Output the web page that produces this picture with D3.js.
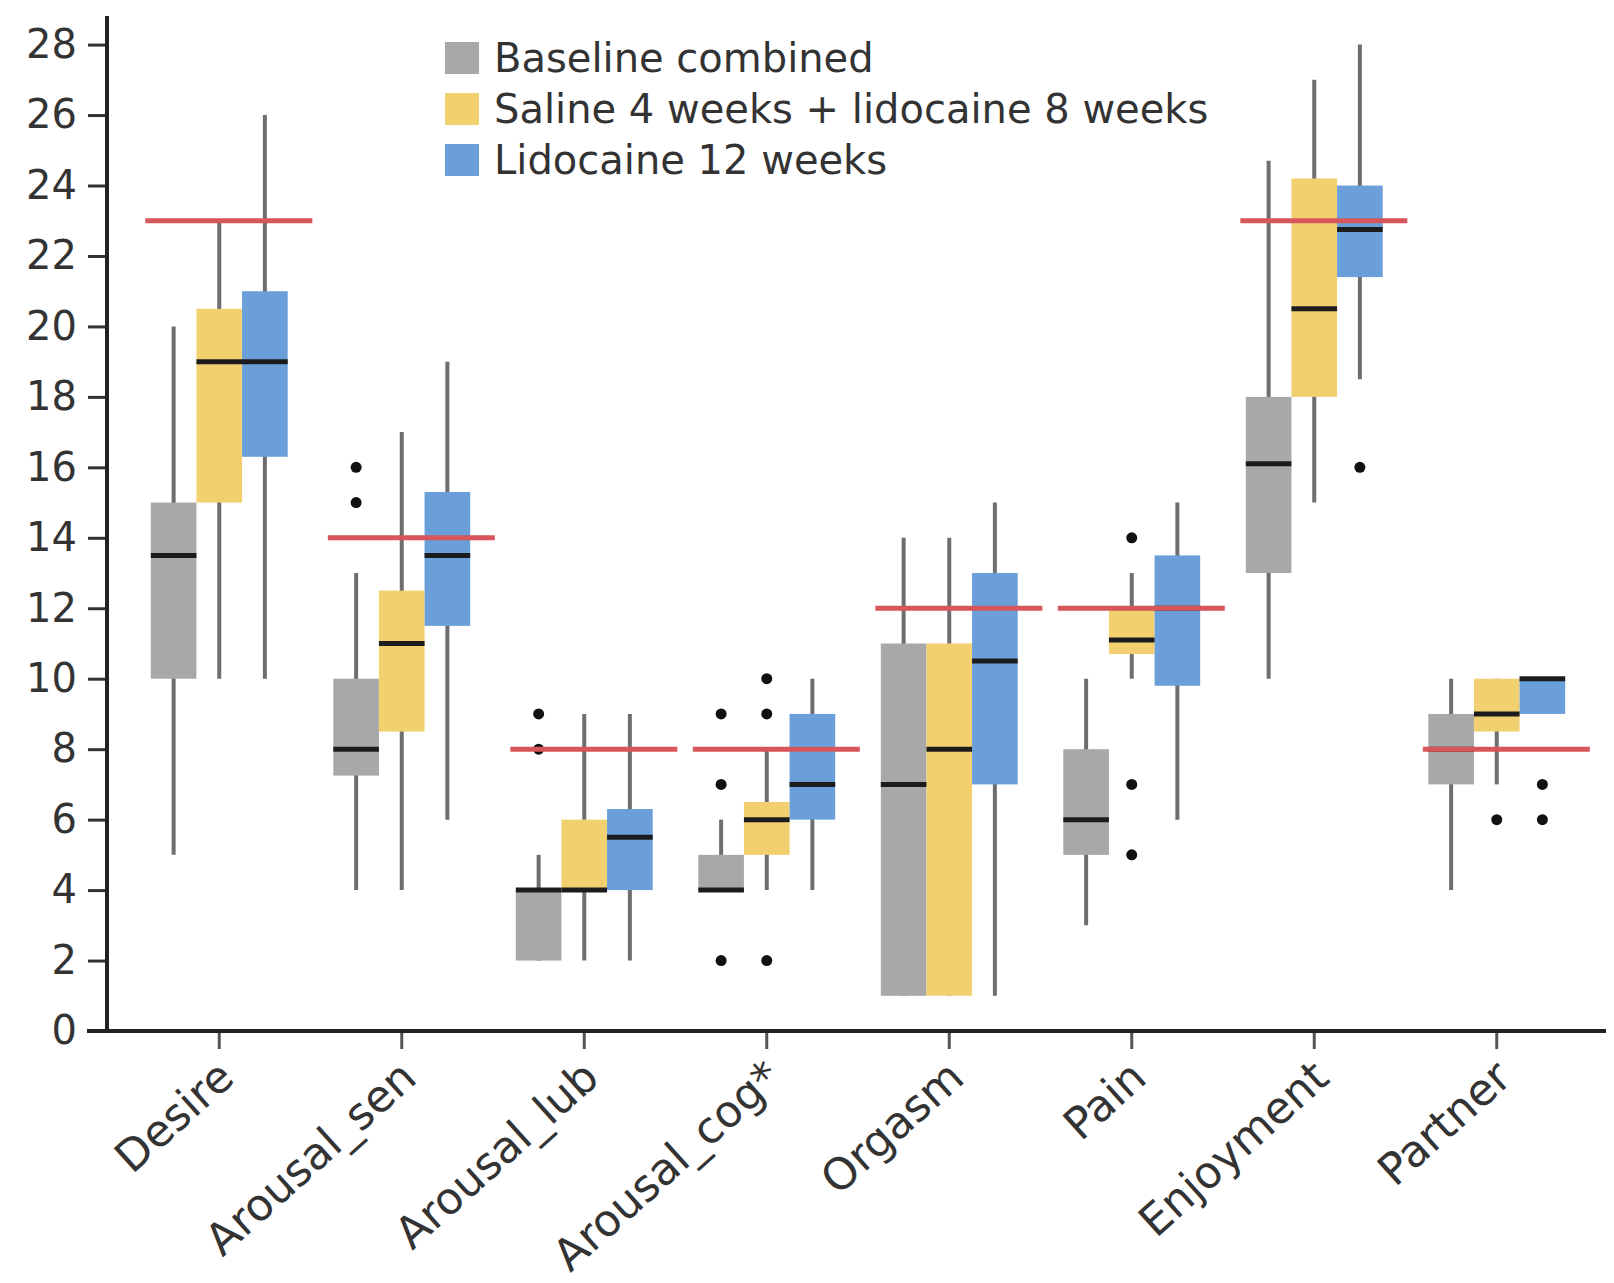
<!DOCTYPE html>
<html><head><meta charset="utf-8">
<script src="https://cdn.jsdelivr.net/npm/d3@7"></script>
<style>
html,body{margin:0;padding:0;background:#fff;}
svg{display:block;}
text{font-family:"DejaVu Sans",sans-serif;fill:#333;}
</style></head>
<body>
<svg id="chart" width="1614" height="1283"></svg>
<script>
const categories = ["Desire","Arousal_sen","Arousal_lub","Arousal_cog*","Orgasm","Pain","Enjoyment","Partner"];
const seriesNames = ["Baseline combined","Saline 4 weeks + lidocaine 8 weeks","Lidocaine 12 weeks"];
const yTicks = [0,2,4,6,8,10,12,14,16,18,20,22,24,26,28];
const referenceValues = [23,14,8,8,12,12,23,8];

// Baseline combined
const baseLow    = [5,4,2,4,1,3,10,4];
const baseQ1     = [10,7.25,2,4,1,5,13,7];
const baseMedian = [13.5,8,4,4,7,6,16.1,8];
const baseQ3     = [15,10,4,5,11,8,18,9];
const baseHigh   = [20,13,5,6,14,10,24.7,10];
const baseOut    = [[],[15,16],[8,9],[2,7,9],[],[],[],[]];

// Saline 4 weeks + lidocaine 8 weeks
const salLow    = [10,4,2,4,1,10,15,7];
const salQ1     = [15,8.5,4,5,1,10.7,18,8.5];
const salMedian = [19,11,4,6,8,11.1,20.5,9];
const salQ3     = [20.5,12.5,6,6.5,11,12,24.2,10];
const salHigh   = [23,17,9,8,14,13,27,10];
const salOut    = [[],[],[],[2,9,10],[],[5,7,14],[],[6]];

// Lidocaine 12 weeks
const lidLow    = [10,6,2,4,1,6,18.5,9];
const lidQ1     = [16.3,11.5,4,6,7,9.8,21.4,9];
const lidMedian = [19,13.5,5.5,7,10.5,12,22.75,10];
const lidQ3     = [21,15.3,6.3,9,13,13.5,24,10];
const lidHigh   = [26,19,9,10,15,15,28,10];
const lidOut    = [[],[],[],[],[],[],[16],[6,7]];

const colors = ["#a8a8aa","#f2cf6f","#6a9fda"];

const series = [
  {low:baseLow,q1:baseQ1,med:baseMedian,q3:baseQ3,high:baseHigh,out:baseOut},
  {low:salLow,q1:salQ1,med:salMedian,q3:salQ3,high:salHigh,out:salOut},
  {low:lidLow,q1:lidQ1,med:lidMedian,q3:lidQ3,high:lidHigh,out:lidOut}
];

const svg = d3.select("#chart");
const axisX0 = 107, axisBottom = 1031, axisTop = 16;
const y = d3.scaleLinear().domain([0,28]).range([1031, 44.6]);
const x = d3.scaleBand().domain(categories).range([128, 1588]).padding(0);
const sub = d3.scaleBand().domain([0,1,2]).range([-x.step()*0.375, x.step()*0.375]).padding(0);
const bw = sub.bandwidth();

// boxes
categories.forEach((c,i)=>{
  const g = svg.append("g").attr("transform",`translate(${x(c)+x.bandwidth()/2},0)`);
  series.forEach((s,k)=>{
    const cx = sub(k)+bw/2;
    g.append("line").attr("x1",cx).attr("x2",cx)
      .attr("y1",y(s.low[i])).attr("y2",y(s.high[i]))
      .attr("stroke","#6e6e70").attr("stroke-width",4);
  });
  series.forEach((s,k)=>{
    const x0 = sub(k);
    g.append("rect").attr("x",x0).attr("width",bw)
      .attr("y",y(s.q3[i])).attr("height",Math.max(0,y(s.q1[i])-y(s.q3[i])))
      .attr("fill",colors[k]);
  });
  series.forEach((s,k)=>{
    const x0 = sub(k);
    g.append("line").attr("x1",x0).attr("x2",x0+bw)
      .attr("y1",y(s.med[i])).attr("y2",y(s.med[i]))
      .attr("stroke","#1c1c1c").attr("stroke-width",5);
  });
  series.forEach((s,k)=>{
    const cx = sub(k)+bw/2;
    s.out[i].forEach(v=>{
      g.append("circle").attr("cx",cx).attr("cy",y(v)).attr("r",5.5).attr("fill","#111");
    });
  });
  g.append("line")
    .attr("x1",-x.step()*0.405).attr("x2",x.step()*0.51)
    .attr("y1",y(referenceValues[i])).attr("y2",y(referenceValues[i]))
    .attr("stroke","#d6565c").attr("stroke-width",5);
});

// y axis
const yAxis = d3.axisLeft(y).tickValues(yTicks).tickSize(19).tickPadding(11);
const yg = svg.append("g").attr("transform",`translate(${axisX0},0)`).call(yAxis);
yg.select(".domain").remove();
yg.selectAll(".tick line").attr("stroke","#333").attr("stroke-width",3);
yg.selectAll(".tick text").attr("font-size",40).attr("fill","#333").attr("font-family","DejaVu Sans");
svg.append("line").attr("x1",axisX0).attr("x2",axisX0).attr("y1",axisTop).attr("y2",axisBottom+2)
  .attr("stroke","#222").attr("stroke-width",4);

// x axis
const xAxis = d3.axisBottom(x).tickSize(18).tickFormat("");
const xg = svg.append("g").attr("transform",`translate(0,${axisBottom})`).call(xAxis);
xg.select(".domain").remove();
xg.selectAll(".tick line").attr("stroke","#555").attr("stroke-width",3);
svg.append("line").attr("x1",87).attr("x2",1606).attr("y1",axisBottom).attr("y2",axisBottom)
  .attr("stroke","#222").attr("stroke-width",4);
xg.selectAll(".tick").append("text")
  .attr("text-anchor","end")
  .attr("transform","translate(17,50) rotate(-42)")
  .attr("font-size",44)
  .attr("fill","#333")
  .text(d=>d);

// legend
const lg = svg.append("g").attr("transform","translate(445,42)");
seriesNames.forEach((n,k)=>{
  const row = lg.append("g").attr("transform",`translate(0,${k*51})`);
  row.append("rect").attr("width",34).attr("height",32).attr("fill",colors[k]);
  row.append("text").attr("x",49).attr("y",30).attr("font-size",40).attr("fill","#333").text(n);
});
</script>
</body></html>
